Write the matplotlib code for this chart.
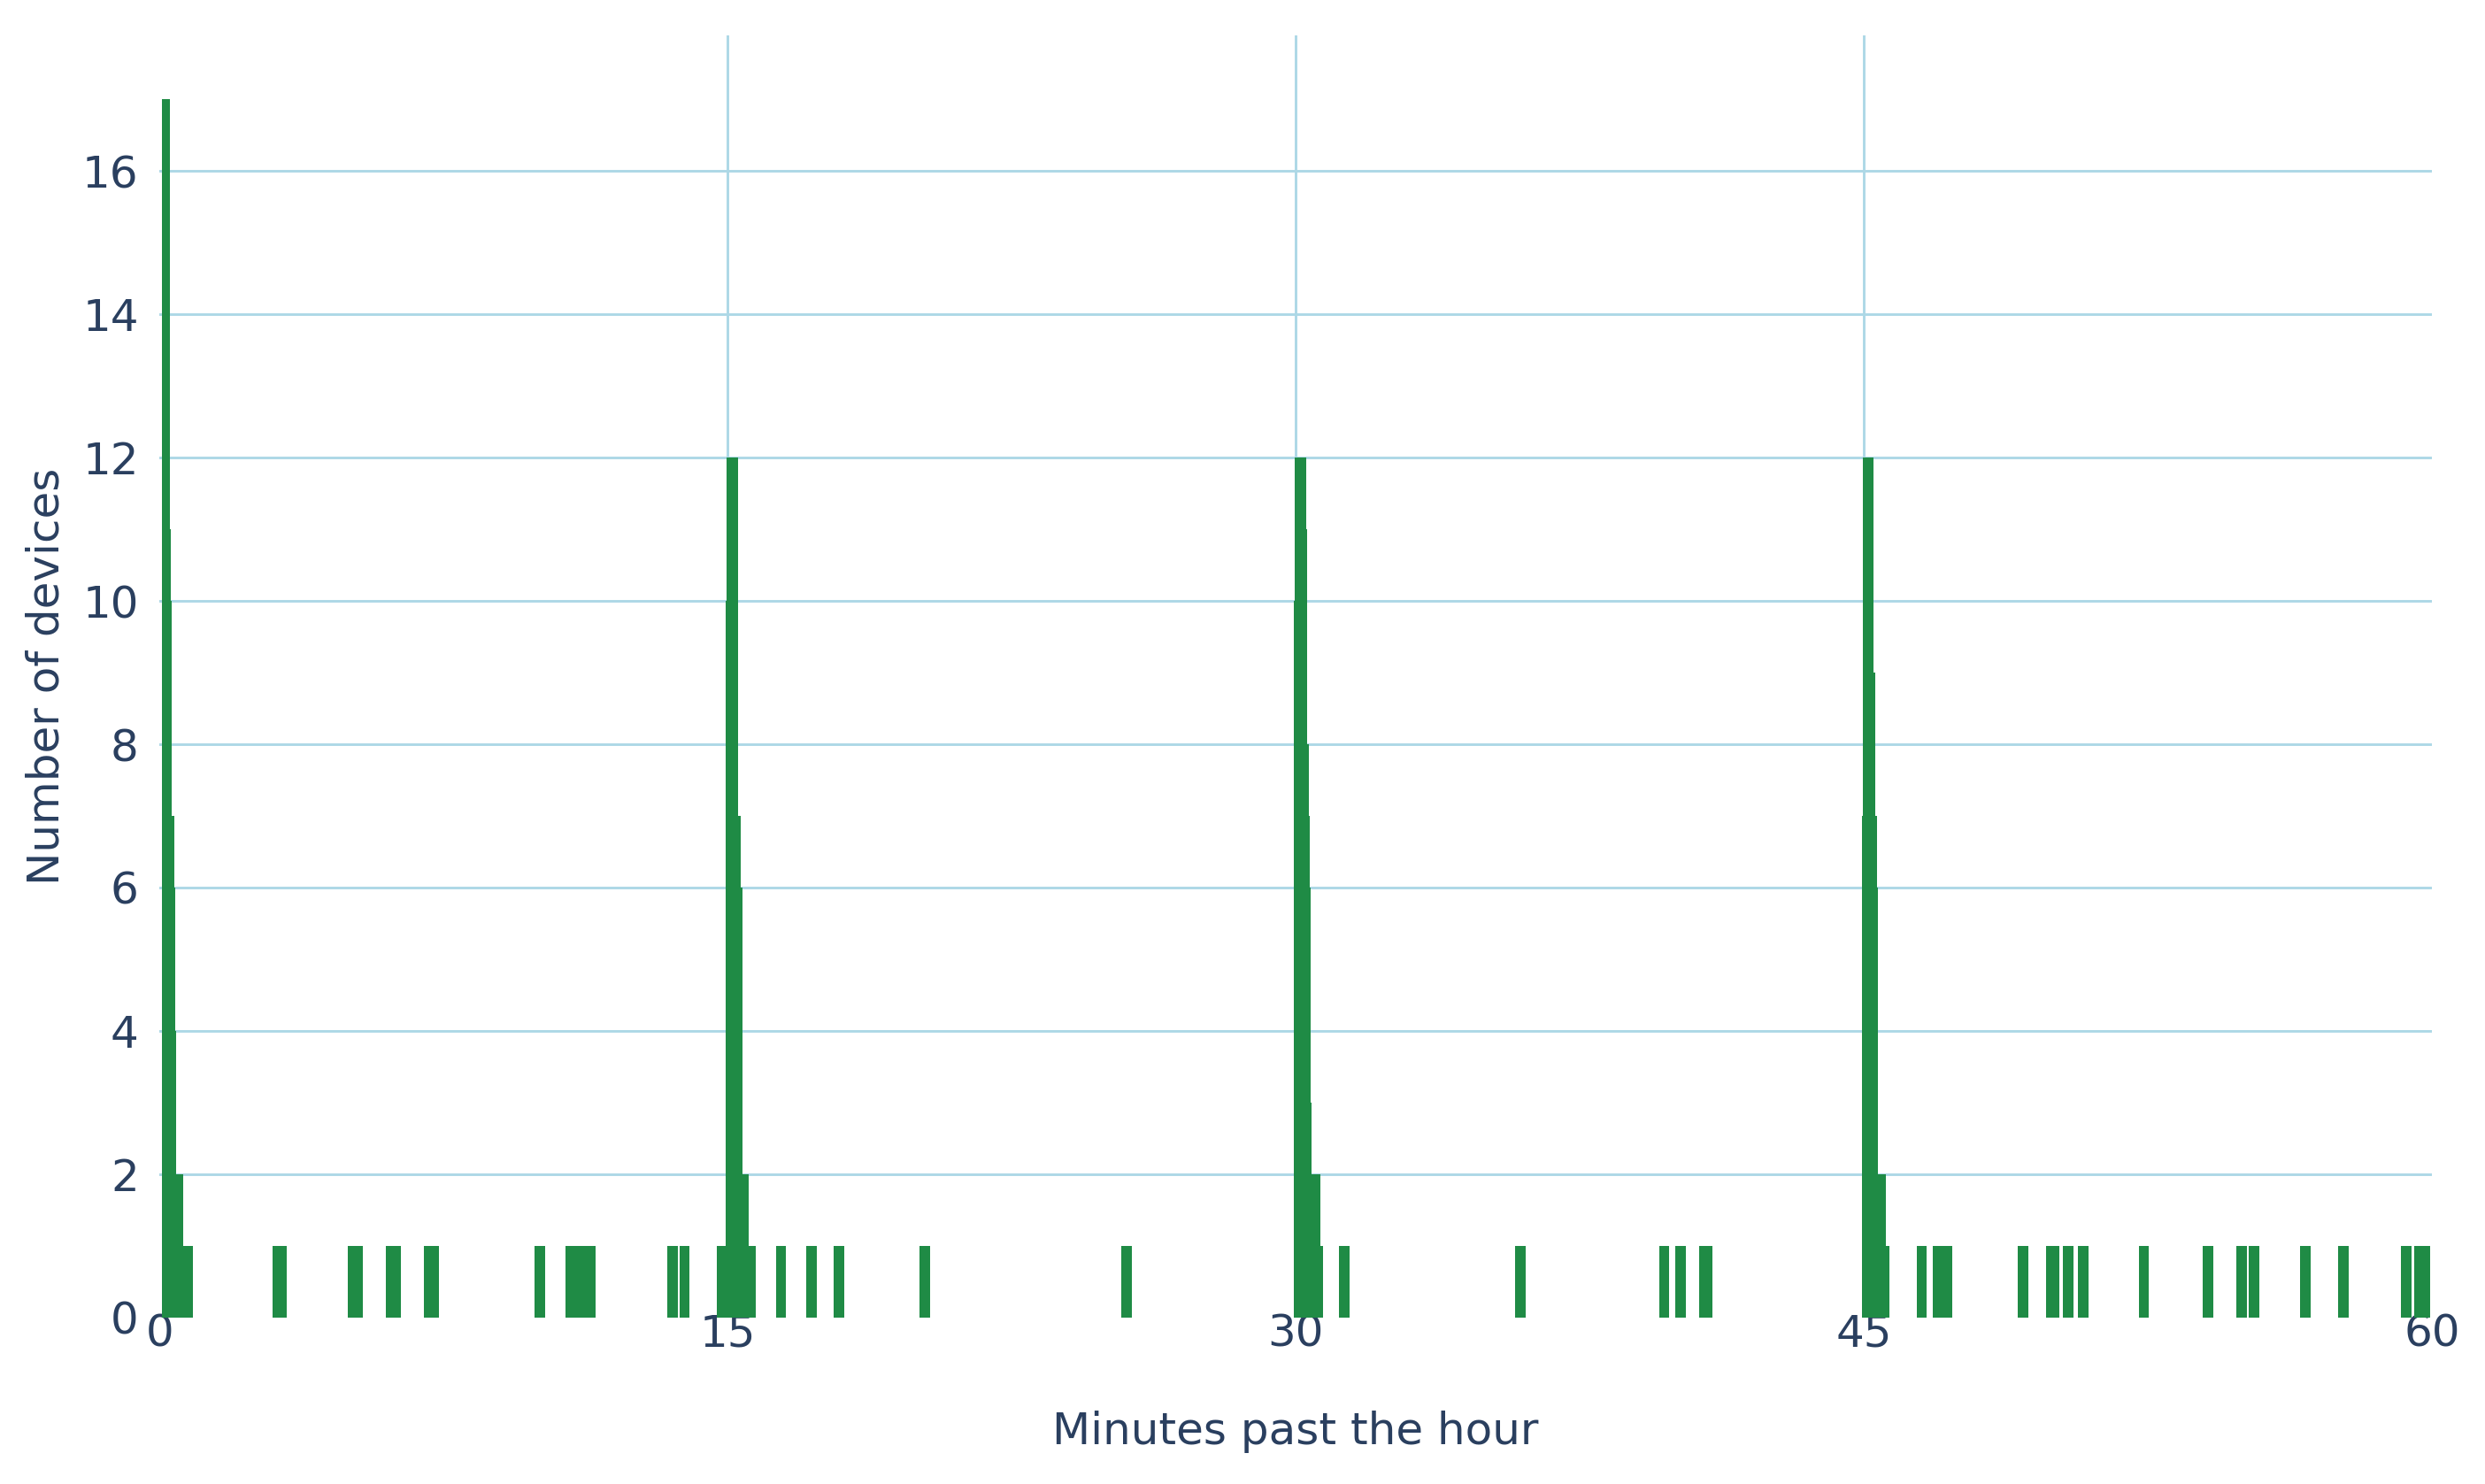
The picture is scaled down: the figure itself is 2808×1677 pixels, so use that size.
import numpy as np
import matplotlib.pyplot as plt

# Histogram of device check-in times (minutes past the hour)
# Clusters right after each quarter hour: bin edges (minutes) and counts
peak_00_edges = [0.063, 0.273, 0.290, 0.313, 0.383, 0.407, 0.430, 0.624, 0.881]
peak_00_counts = [17, 11, 10, 7, 6, 4, 2, 1]

peak_15_edges = [14.713, 14.946, 14.970, 15.273, 15.343, 15.390, 15.554, 15.741]
peak_15_counts = [1, 10, 12, 7, 6, 2, 1]

peak_30_edges = [29.946, 29.970, 30.273, 30.297, 30.343, 30.367, 30.390, 30.413, 30.647, 30.717]
peak_30_counts = [10, 12, 11, 8, 7, 6, 3, 2, 1]

peak_45_edges = [44.946, 44.970, 45.250, 45.297, 45.343, 45.367, 45.577, 45.670]
peak_45_counts = [7, 12, 9, 7, 6, 2, 1]

# Isolated single-device bins (count 1)
single_start = [2.979, 4.965, 5.970, 6.979, 9.900, 10.717, 13.404, 13.731, 16.276,
                17.072, 17.797, 20.063, 25.390, 31.133, 35.783, 39.596, 40.016,
                40.647, 46.395, 46.815, 49.058, 49.806, 50.250, 50.647, 52.259,
                53.941, 54.829, 55.157, 56.512, 57.516, 59.175, 59.526]
single_end = [3.352, 5.362, 6.367, 7.376, 10.180, 11.512, 13.685, 13.988, 16.533,
              17.353, 18.077, 20.343, 25.670, 31.413, 36.063, 39.853, 40.297,
              40.998, 46.652, 47.329, 49.339, 50.157, 50.530, 50.928, 52.516,
              54.222, 55.110, 55.437, 56.792, 57.797, 59.456, 59.946]

x_ticks = [0, 15, 30, 45, 60]
y_ticks = [0, 2, 4, 6, 8, 10, 12, 14, 16]

bar_color = '#1f8b45'
text_color = '#2a3f5f'
grid_color = '#add8e6'

fig = plt.figure(figsize=(28.08, 16.77), dpi=100)
ax = fig.add_axes([0.0642, 0.1123, 0.9145, 0.8641])

for edges, counts in [(peak_00_edges, peak_00_counts), (peak_15_edges, peak_15_counts),
                      (peak_30_edges, peak_30_counts), (peak_45_edges, peak_45_counts)]:
    ax.stairs(counts, edges, fill=True, color=bar_color, linewidth=0, zorder=3)

starts = np.array(single_start)
ends = np.array(single_end)
ax.bar(starts, np.ones(len(starts)), width=ends - starts, align='edge',
       color=bar_color, linewidth=0, zorder=3)

ax.set_xlim(0, 60)
ax.set_ylim(0, 17.9)
ax.set_xticks(x_ticks)
ax.set_yticks(y_ticks)

# grid: horizontal lines above zero, vertical lines at inner quarter hours
for y in y_ticks[1:]:
    ax.axhline(y, color=grid_color, linewidth=2.1, zorder=1)
for x in x_ticks[1:-1]:
    ax.axvline(x, color=grid_color, linewidth=2.1, zorder=1)

for s in ax.spines.values():
    s.set_visible(False)
ax.tick_params(length=0, labelsize=36, labelcolor=text_color)
ax.tick_params(axis='y', pad=17)
ax.tick_params(axis='x', pad=-4)

ax.set_xlabel('Minutes past the hour', fontsize=36, color=text_color, labelpad=45)
ax.set_ylabel('Number of devices', fontsize=36, color=text_color, labelpad=12)

fig.savefig('out.png', dpi=100)
